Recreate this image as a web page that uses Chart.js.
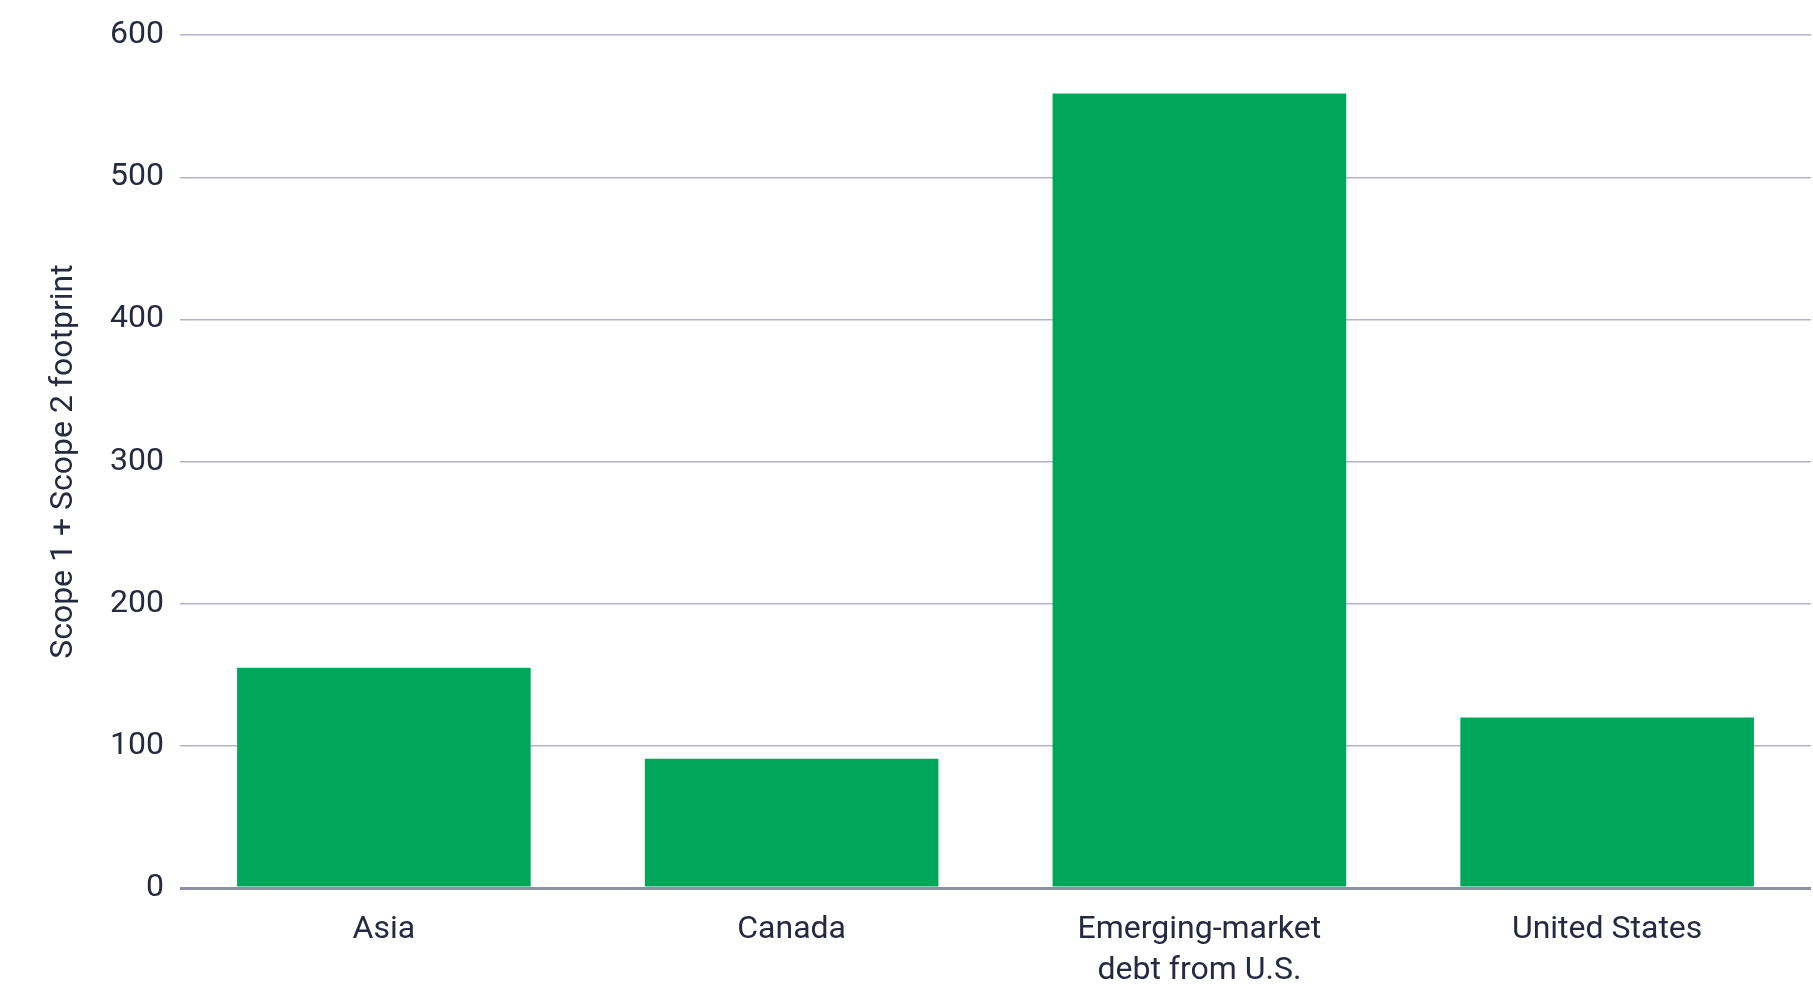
<!DOCTYPE html>
<html>
<head>
<meta charset="utf-8">
<script src="https://cdn.jsdelivr.net/npm/chart.js@4"></script>
<style>
  html, body { margin: 0; padding: 0; background: #fff; }
  #wrap { width: 1813px; height: 991px; }
</style>
</head>
<body>
<div id="wrap"><canvas id="footprintChart" width="1813" height="991"></canvas></div>
<script>
const regions = [["Asia"], ["Canada"], ["Emerging-market", "debt from U.S."], ["United States"]];
const footprint = [155, 91, 559, 120];
const yTicks = [0, 100, 200, 300, 400, 500, 600];

const textColor = "#262a40";
const fontFamily = "Roboto, 'Noto Sans', sans-serif";

const ctx = document.getElementById("footprintChart").getContext("2d");
new Chart(ctx, {
  type: "bar",
  data: {
    labels: regions,
    datasets: [{
      data: footprint,
      backgroundColor: "#00a659",
      borderWidth: 0,
      barPercentage: 0.72,
      categoryPercentage: 1.0
    }]
  },
  options: {
    responsive: false,
    animation: false,
    layout: { padding: { top: 35, right: 2, bottom: 0, left: 0 } },
    plugins: {
      legend: { display: false },
      tooltip: { enabled: false }
    },
    scales: {
      x: {
        grid: { display: false, drawTicks: false },
        border: { display: false },
        ticks: {
          color: textColor,
          font: { family: fontFamily, size: 32, lineHeight: 1.27 },
          padding: 22,
          maxRotation: 0
        },
        afterFit: (scale) => { scale.height = 103; }
      },
      y: {
        min: 0,
        max: 600,
        afterBuildTicks: (scale) => { scale.ticks = yTicks.map(v => ({ value: v })); },
        grid: {
          drawTicks: false,
          color: (c) => c.tick && c.tick.value === 0 ? "#8f8fa8" : "#b4b4c6",
          lineWidth: (c) => c.tick && c.tick.value === 0 ? 3 : 1.5
        },
        border: { display: false },
        ticks: {
          color: textColor,
          font: { family: fontFamily, size: 32 },
          padding: 16
        },
        title: {
          display: true,
          text: "Scope 1 + Scope 2 footprint",
          color: textColor,
          font: { family: fontFamily, size: 32 },
          padding: { top: 45, bottom: 0 }
        },
        afterFit: (scale) => { scale.width = 180; }
      }
    }
  }
});
</script>
</body>
</html>
